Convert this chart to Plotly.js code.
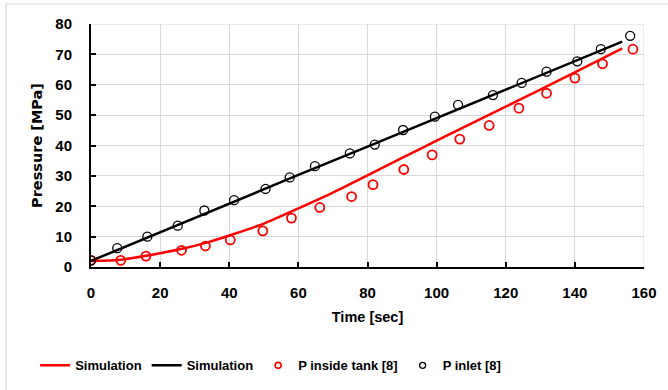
<!DOCTYPE html>
<html>
<head>
<meta charset="utf-8">
<script src="https://cdn.plot.ly/plotly-3.0.1.min.js"></script>
<style>
  html, body { margin: 0; padding: 0; background: #ffffff; }
  #chart { width: 668px; height: 390px; }
</style>
</head>
<body>
<div id="chart"></div>
<script>
// Simulated pressure histories (time in s, pressure in MPa)
const simTankTime = [0, 8, 16, 26, 34, 42, 50, 60, 70, 80, 90, 100, 110, 120, 130, 140, 153.7];
const simTankP    = [2, 2.3, 3.7, 5.9, 8.2, 11.1, 14.3, 19.3, 24.5, 30.2, 35.9, 41.6, 47.2, 52.8, 58.4, 64.1, 72];

const simInletTime = [0, 20, 40, 60, 80, 100, 120, 140, 153.7];
const simInletP    = [2, 11.5, 21, 30.3, 39.6, 49, 58.4, 67.8, 74.2];

// Measured pressure inside the tank [8]
const expTankTime = [0, 8.6, 15.9, 26.2, 33.1, 40.3, 49.7, 58.0, 66.2, 75.4, 81.6, 90.5, 98.7, 106.7, 115.2, 123.8, 131.8, 140.0, 148.0, 156.8];
const expTankP    = [2.2, 2.2, 3.6, 5.5, 6.9, 8.9, 11.9, 16.1, 19.6, 23.2, 27.1, 32.1, 36.9, 42.1, 46.6, 52.3, 57.2, 62.2, 66.9, 71.7];

// Measured inlet pressure [8]
const expInletTime = [0, 7.6, 16.3, 25.1, 32.8, 41.4, 50.5, 57.5, 64.8, 74.9, 82.1, 90.3, 99.5, 106.2, 116.3, 124.6, 131.8, 140.7, 147.5, 156.0];
const expInletP    = [2.2, 6.2, 10.0, 13.6, 18.6, 22.0, 25.7, 29.5, 33.2, 37.4, 40.3, 45.1, 49.5, 53.4, 56.6, 60.6, 64.3, 67.7, 71.7, 76.1];

const legendNames = ['Simulation', 'Simulation', 'P inside tank [8]', 'P inlet [8]'];

const FONT = 'Liberation Sans, Arial, Helvetica, sans-serif';
const WIDE = 'DejaVu Sans, Verdana, sans-serif';
const RED = '#ff0000';
const BLACK = '#000000';

const traces = [
  {
    x: simTankTime, y: simTankP, name: legendNames[0],
    type: 'scatter', mode: 'lines',
    line: { color: RED, width: 2.5, shape: 'spline', smoothing: 0.5 }
  },
  {
    x: simInletTime, y: simInletP, name: legendNames[1],
    type: 'scatter', mode: 'lines',
    line: { color: BLACK, width: 2.5 }
  },
  {
    x: expTankTime, y: expTankP, name: legendNames[2], showlegend: false,
    type: 'scatter', mode: 'markers',
    marker: { symbol: 'circle-open', size: 9, color: RED, line: { color: RED, width: 1.8 } }
  },
  {
    x: expInletTime, y: expInletP, name: legendNames[3], showlegend: false,
    type: 'scatter', mode: 'markers',
    marker: { symbol: 'circle-open', size: 9, color: BLACK, line: { color: '#222222', width: 1.3 } }
  },
  // legend keys for the measured series (smaller symbols than in the plot)
  {
    x: [null], y: [null], name: legendNames[2],
    type: 'scatter', mode: 'markers',
    marker: { symbol: 'circle-open', size: 6, color: RED, line: { color: RED, width: 1.6 } }
  },
  {
    x: [null], y: [null], name: legendNames[3],
    type: 'scatter', mode: 'markers',
    marker: { symbol: 'circle-open', size: 6, color: BLACK, line: { color: '#222222', width: 1.3 } }
  }
];

const layout = {
  width: 668,
  height: 390,
  margin: { l: 91, r: 24, t: 24, b: 123, autoexpand: false },
  paper_bgcolor: '#ffffff',
  plot_bgcolor: '#ffffff',
  font: { family: FONT, size: 13, color: '#000000' },
  showlegend: true,
  legend: {
    orientation: 'h',
    x: -0.101, xanchor: 'left',
    y: -0.405, yanchor: 'middle',
    font: { family: FONT, size: 13, weight: 'bold', color: '#000000' },
    bgcolor: 'rgba(0,0,0,0)'
  },
  xaxis: {
    range: [0, 160],
    tickmode: 'linear', tick0: 0, dtick: 20,
    showgrid: true, gridcolor: '#d9d9d9', gridwidth: 1,
    zeroline: false,
    showline: true, linecolor: '#000000', linewidth: 2,
    ticks: 'inside', ticklen: 5, tickwidth: 2, tickcolor: '#000000',
    ticklabelstandoff: 11,
    tickfont: { family: FONT, size: 15, weight: 'bold', color: '#000000' },
    title: { text: 'Time [sec]', standoff: 12,
             font: { family: FONT, size: 14.5, weight: 'bold', color: '#000000' } }
  },
  yaxis: {
    range: [0, 80],
    tickmode: 'linear', tick0: 0, dtick: 10,
    showgrid: true, gridcolor: '#d9d9d9', gridwidth: 1,
    zeroline: false,
    showline: true, linecolor: '#000000', linewidth: 2,
    ticks: 'inside', ticklen: 5, tickwidth: 2, tickcolor: '#000000',
    ticklabelstandoff: 14,
    tickfont: { family: FONT, size: 15, weight: 'bold', color: '#000000' },
    title: { text: 'Pressure [MPa]', standoff: 9,
             font: { family: WIDE, size: 14.5, weight: 'bold', color: '#000000' } }
  },
  shapes: [
    // top and right grid edges of the plotting area
    { type: 'line', xref: 'x', yref: 'paper', x0: 160, x1: 160, y0: 0, y1: 1,
      line: { color: '#d9d9d9', width: 1 }, layer: 'below' },
    { type: 'line', xref: 'paper', yref: 'y', x0: 0, x1: 1, y0: 80, y1: 80,
      line: { color: '#d9d9d9', width: 1 }, layer: 'below' },
    // chart area frame
    { type: 'rect', xref: 'paper', yref: 'paper',
      x0: -0.1537, x1: 1.2, y0: -0.7, y1: 1.0823,
      line: { color: '#d9d9d9', width: 1.2 }, fillcolor: 'rgba(0,0,0,0)', layer: 'below' }
  ]
};

Plotly.newPlot('chart', traces, layout, { displayModeBar: false, staticPlot: true });
</script>
</body>
</html>
